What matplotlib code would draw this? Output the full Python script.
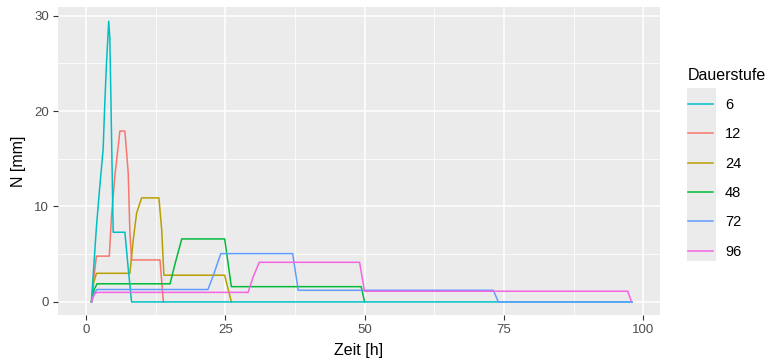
import matplotlib
matplotlib.use("Agg")
import matplotlib.pyplot as plt
from matplotlib.patches import Rectangle
from matplotlib.ticker import MultipleLocator

plt.rcParams["font.family"] = ["Liberation Sans", "DejaVu Sans"]

# ── Data (Zeit [h], N [mm]) ──────────────────────────────────────────────────
t_12 = [1.0, 1.3, 1.9, 4.2, 4.6, 5.2, 5.8, 6.1, 7.0, 7.6, 7.9, 8.2, 13.3, 13.9]
n_12 = [0.0, 2.0, 4.8, 4.8, 9.0, 13.2, 16.3, 17.9, 17.9, 13.5, 7.2, 4.4, 4.4, 0.0]

t_24 = [1.0, 1.4, 1.9, 7.9, 8.5, 9.1, 10.0, 13.1, 13.6, 14.0, 24.9, 26.1]
n_24 = [0.0, 2.0, 3.0, 3.0, 6.5, 9.3, 10.9, 10.9, 7.6, 2.8, 2.8, 0.0]

t_48 = [1.0, 1.5, 2.0, 15.1, 16.0, 17.2, 24.9, 26.1, 49.4, 50.0]
n_48 = [0.0, 1.3, 1.9, 1.9, 4.0, 6.6, 6.6, 1.6, 1.6, 0.0]

t_6 = [1.0, 1.3, 1.9, 2.5, 3.1, 3.4, 3.7, 4.1, 4.3, 4.5, 4.9, 7.0, 7.6, 8.2, 98.0]
n_6 = [0.0, 2.7, 7.9, 12.1, 16.0, 20.9, 25.0, 29.4, 27.6, 21.0, 7.3, 7.3, 3.5, 0.0, 0.0]

t_72 = [1.0, 1.5, 2.0, 21.9, 23.0, 24.2, 37.1, 38.1, 73.1, 74.0, 98.0]
n_72 = [0.0, 0.9, 1.3, 1.3, 3.0, 5.06, 5.06, 1.22, 1.22, 0.0, 0.0]

t_96 = [1.0, 1.5, 2.0, 29.1, 30.0, 31.1, 49.1, 50.0, 97.2, 97.9]
n_96 = [0.0, 0.8, 1.0, 1.0, 2.6, 4.15, 4.15, 1.12, 1.12, 0.0]

labels = ["6", "12", "24", "48", "72", "96"]
colors = {"12": "#F8766D", "24": "#B79F00", "48": "#00BA38",
          "6": "#00BFC4", "72": "#619CFF", "96": "#F564E3"}
series = {"6": (t_6, n_6), "12": (t_12, n_12), "24": (t_24, n_24),
          "48": (t_48, n_48), "72": (t_72, n_72), "96": (t_96, n_96)}
draw_order = ["12", "24", "48", "6", "72", "96"]

# ── Figure ───────────────────────────────────────────────────────────────────
W, H = 776, 364
fig = plt.figure(figsize=(W / 100, H / 100), dpi=100)
fig.patch.set_facecolor("white")
ax = fig.add_axes([58 / W, 1 - 315 / H, (660 - 58) / W, (315 - 7) / H])
ax.set_facecolor("#EBEBEB")

handles = {}
for key in draw_order:
    t, n = series[key]
    handles[key], = ax.plot(t, n, color=colors[key], lw=1.1)

ax.set_xlim(-5.0, 103.0)
ax.set_ylim(-1.37, 30.9)
ax.xaxis.set_major_locator(MultipleLocator(25))
ax.xaxis.set_minor_locator(MultipleLocator(12.5))
ax.yaxis.set_major_locator(MultipleLocator(10))
ax.yaxis.set_minor_locator(MultipleLocator(5))
ax.grid(which="major", color="white", lw=1.1)
ax.grid(which="minor", color="white", lw=0.55)
ax.set_axisbelow(True)
for spine in ax.spines.values():
    spine.set_visible(False)
ax.tick_params(which="major", length=3.5, width=0.8, color="#333333",
               labelcolor="#4D4D4D", labelsize=9.5, pad=3)
ax.tick_params(which="minor", length=0)

ax.set_xlabel("Zeit [h]", fontsize=11.5, color="black", labelpad=5)
ax.set_ylabel("N [mm]", fontsize=11.5, color="black", labelpad=6)

# legend key background (ggplot style), behind the axes and legend
key_bg = Rectangle((687 / W, 1 - 261 / H), 29 / W, 173 / H,
                   transform=fig.transFigure, facecolor="#EBEBEB",
                   edgecolor="none", zorder=-5)
fig.patches.append(key_bg)

leg = ax.legend([handles[k] for k in labels], labels, title="Dauerstufe",
                loc="upper left", bbox_to_anchor=(682 / W, 1 - 62 / H),
                bbox_transform=fig.transFigure, frameon=False, fontsize=10.5,
                title_fontsize=11.5, handlelength=1.75, handletextpad=0.8,
                labelspacing=1.05, borderaxespad=0)
leg._legend_box.align = "left"

fig.savefig("out.png", dpi=100)
